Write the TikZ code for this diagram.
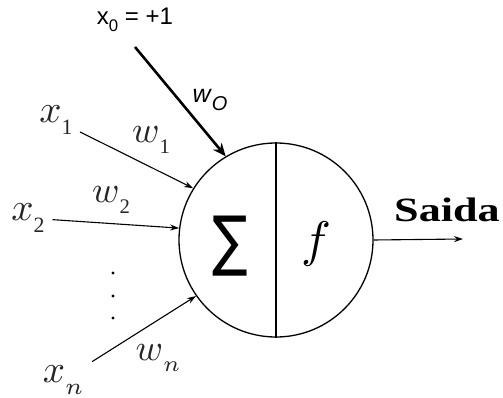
\documentclass[tikz,border=0pt]{standalone}
\usepackage{fontspec}
\setmainfont{Liberation Serif}
\setsansfont{Liberation Sans}
\newfontfamily\symfont{DejaVu Sans}
\usetikzlibrary{arrows.meta, positioning}

\newcommand{\lowsub}[1]{\raisebox{-0.3em}{\fontsize{5.6}{6}\selectfont #1}}

\tikzset{
  varlabel/.style={scale=3.9, inner sep=0.8pt, text=black!85},
  wlabel/.style={scale=3.7, inner sep=0pt, text=black!85},
  inarrow/.style={line width=1.1pt, -{Stealth[length=9pt, width=6pt]}},
  biasarrow/.style={line width=2.6pt, -{Stealth[length=13pt, width=11pt]}},
}

\begin{document}
\begin{tikzpicture}[x=1pt, y=-1pt]
  \useasboundingbox (0,0) rectangle (503,398);

  % Neuron
  \node[draw, circle, line width=1.3pt, minimum size=194pt, inner sep=0pt] (neuron) at (276,240) {};
  \draw[line width=1.3pt] (neuron.north) -- (neuron.south);
  \node[font=\symfont\fontsize{66}{66}\selectfont, xscale=0.8] (sum) at (230,246) {∑};
  \node[scale=5] (act) at (316,244) {$f$};

  % Bias input
  \node[font=\sffamily, scale=2.4, inner sep=0.5pt] (x0) at (135,20) {x\raisebox{-0.3em}{\fontsize{7}{7}\selectfont 0} = +1};
  \coordinate (x0start) at (135,47);
  \draw[biasarrow] (x0start) -- (neuron.121);
  \node[font=\sffamily, scale=2.5] (w0) at (210,100) {\textsl{w}\raisebox{-0.3em}{\fontsize{8}{8}\selectfont\textsl{O}}};

  % Inputs
  \node[varlabel] (x1) at (56,120) {$x$\lowsub{1}};
  \node[varlabel] (x2) at (28,218) {$x$\lowsub{2}};
  \node[varlabel] (xn) at (63,380) {$x$\lowsub{$n$}};

  \draw[inarrow, shorten <=4pt] (x1) -- (neuron.148);
  \draw[inarrow, shorten <=4pt] (x2) -- (neuron.173);
  \draw[inarrow, shorten <=6pt] (xn) -- (neuron.215);

  % Weights
  \node[wlabel] (w1) at (151,140) {$w$\lowsub{1}};
  \node[wlabel] (w2) at (111,200) {$w$\lowsub{2}};
  \node[wlabel] (wn) at (158,358) {$w$\lowsub{$n$}};

  % Dots
  \foreach \y in {273,296,318} {
    \fill (113,\y) circle (1.6pt);
  }

  % Output
  \coordinate (out) at (463,239);
  \draw[inarrow] (neuron.east) -- (out);
  \node[font=\bfseries\fontsize{34}{34}\selectfont, xscale=1.3] (saida) at (447,210) {Saida};
\end{tikzpicture}
\end{document}
